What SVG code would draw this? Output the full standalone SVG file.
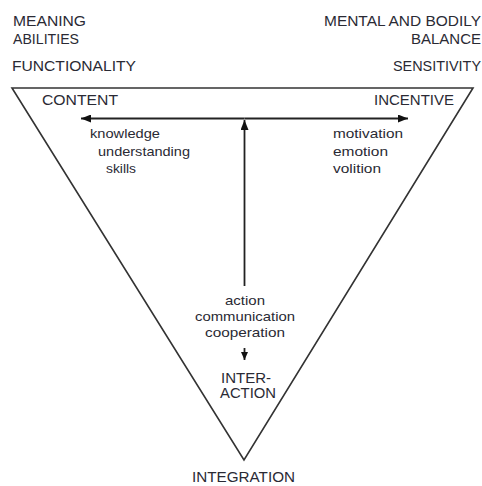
<svg xmlns="http://www.w3.org/2000/svg" width="482" height="486" viewBox="0 0 482 486">
<style>
.t{font-family:"Liberation Sans",Arial,sans-serif;fill:#2a2a34}
.cap{font-size:14px}
.low{font-size:13px}
.ln{fill:none;stroke:#333;stroke-width:1.6}
.ar{fill:none;stroke:#222;stroke-width:1.8}
</style>
<defs>
<marker id="ah" viewBox="0 0 10 8" refX="10" refY="4" markerWidth="10" markerHeight="8" markerUnits="userSpaceOnUse" orient="auto">
<path d="M0,0 L10,4 L0,8 Z" fill="#111"/>
</marker>
<marker id="ahs" viewBox="0 0 8 7" refX="8" refY="3.5" markerWidth="8" markerHeight="7" markerUnits="userSpaceOnUse" orient="auto">
<path d="M0,0 L8,3.5 L0,7 Z" fill="#111"/>
</marker>
</defs>
<g id="triangle">
<path class="ln" d="M12,88 L473,88 L244,460 Z"/>
</g>
<g id="connectors">
<line class="ar" x1="244.5" y1="118.5" x2="81" y2="118.5" marker-end="url(#ah)"/>
<line class="ar" x1="244.5" y1="118.5" x2="408" y2="118.5" marker-end="url(#ah)"/>
<line class="ar" x1="244.5" y1="286" x2="244.5" y2="120" marker-end="url(#ah)"/>
<line class="ar" x1="244.5" y1="348" x2="244.5" y2="360" marker-end="url(#ahs)"/>
</g>
<g id="top-left">
<text class="t cap" x="13" y="26" textLength="73" lengthAdjust="spacingAndGlyphs">MEANING</text>
<text class="t cap" x="13" y="44" textLength="66" lengthAdjust="spacingAndGlyphs">ABILITIES</text>
<text class="t cap" x="12" y="71" textLength="124" lengthAdjust="spacingAndGlyphs">FUNCTIONALITY</text>
</g>
<g id="top-right">
<text class="t cap" x="324" y="26" textLength="157" lengthAdjust="spacingAndGlyphs">MENTAL AND BODILY</text>
<text class="t cap" x="411" y="44" textLength="70" lengthAdjust="spacingAndGlyphs">BALANCE</text>
<text class="t cap" x="393" y="71" textLength="88" lengthAdjust="spacingAndGlyphs">SENSITIVITY</text>
</g>
<g id="content">
<text class="t cap" x="42" y="105" textLength="76" lengthAdjust="spacingAndGlyphs">CONTENT</text>
<text class="t low" x="90" y="138" textLength="70" lengthAdjust="spacingAndGlyphs">knowledge</text>
<text class="t low" x="98" y="156" textLength="92" lengthAdjust="spacingAndGlyphs">understanding</text>
<text class="t low" x="106" y="173" textLength="30" lengthAdjust="spacingAndGlyphs">skills</text>
</g>
<g id="incentive">
<text class="t cap" x="374" y="105" textLength="80" lengthAdjust="spacingAndGlyphs">INCENTIVE</text>
<text class="t low" x="333" y="138" textLength="70" lengthAdjust="spacingAndGlyphs">motivation</text>
<text class="t low" x="333" y="156" textLength="55" lengthAdjust="spacingAndGlyphs">emotion</text>
<text class="t low" x="333" y="173" textLength="48" lengthAdjust="spacingAndGlyphs">volition</text>
</g>
<g id="interaction">
<text class="t low" x="225" y="305" textLength="40" lengthAdjust="spacingAndGlyphs">action</text>
<text class="t low" x="195" y="321" textLength="100" lengthAdjust="spacingAndGlyphs">communication</text>
<text class="t low" x="205" y="337" textLength="80" lengthAdjust="spacingAndGlyphs">cooperation</text>
<text class="t cap" x="221" y="383" textLength="50" lengthAdjust="spacingAndGlyphs">INTER-</text>
<text class="t cap" x="220" y="398" textLength="56" lengthAdjust="spacingAndGlyphs">ACTION</text>
</g>
<g id="integration">
<text class="t cap" x="192" y="482" textLength="103" lengthAdjust="spacingAndGlyphs">INTEGRATION</text>
</g>
</svg>
